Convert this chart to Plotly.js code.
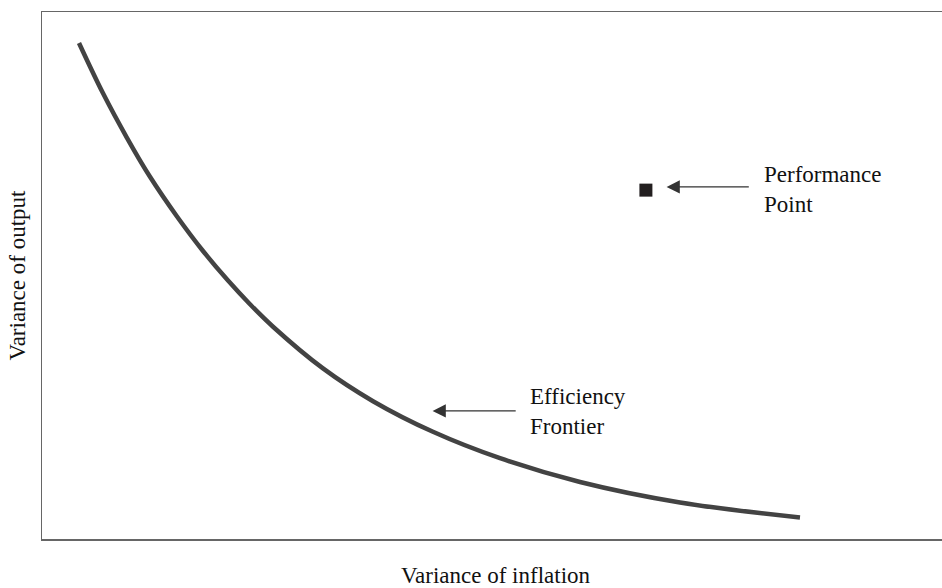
<!DOCTYPE html>
<html>
<head>
<meta charset="utf-8">
<script src="https://cdn.plot.ly/plotly-3.0.1.min.js"></script>
<style>html,body{margin:0;padding:0;background:#fff;}#chart{width:942px;height:588px;}</style>
</head>
<body>
<div id="chart"></div>
<script>
// Efficiency frontier (variance of inflation vs variance of output, arbitrary units 0-100)
const frontierX = [4.11, 6.78, 9.44, 12.0, 15.0, 17.89, 20.67, 23.11, 25.67, 31.22, 36.78, 43.44, 50.89, 59.78, 70.89, 84.22];
const frontierY = [94.12, 84.57, 76.13, 68.73, 61.2, 54.65, 49.03, 44.55, 40.28, 32.37, 26.15, 20.34, 15.33, 10.82, 6.93, 4.08];
// Performance point
const pointX = [67.1];
const pointY = [66.2];
// Labels
const xTitle = 'Variance of inflation';
const yTitle = 'Variance of output';
const perfLabel = 'Performance<br>Point';
const effLabel = 'Efficiency<br>Frontier';

const FONT = 'Liberation Serif, Times New Roman, Times, serif';

const traces = [
  {x: frontierX, y: frontierY, mode: 'lines', type: 'scatter',
   line: {color: '#434343', width: 4.5, shape: 'spline', smoothing: 1}, hoverinfo: 'skip'},
  {x: pointX, y: pointY, mode: 'markers', type: 'scatter',
   marker: {symbol: 'square', size: 13, color: '#231f20'}, hoverinfo: 'skip'}
];

const layout = {
  width: 942, height: 588,
  margin: {l: 42, r: 0, t: 12, b: 49},
  paper_bgcolor: '#ffffff', plot_bgcolor: '#ffffff',
  showlegend: false,
  font: {family: FONT, size: 23, color: '#111'},
  xaxis: {range: [0, 100], showgrid: false, zeroline: false, showticklabels: false, ticks: '',
          showline: true, linecolor: '#666', linewidth: 1.5, mirror: true, fixedrange: true},
  yaxis: {range: [0, 100], showgrid: false, zeroline: false, showticklabels: false, ticks: '',
          showline: true, linecolor: '#666', linewidth: 1.5, mirror: false, fixedrange: true,
          title: {text: yTitle, font: {family: FONT, size: 23, color: '#111'}, standoff: 8}},
  annotations: [
    {x: 0.5044, y: -0.0702, xref: 'paper', yref: 'paper', text: xTitle, showarrow: false,
     xanchor: 'center', yanchor: 'middle', font: {family: FONT, size: 23, color: '#111'}},
    {x: 69.4, y: 66.8, ax: 78.7, ay: 66.8, xref: 'x', yref: 'y', axref: 'x', ayref: 'y',
     text: '', showarrow: true, arrowhead: 2, arrowsize: 2.2, arrowwidth: 1.2, arrowcolor: '#333'},
    {x: 80.0, y: 66.4, xref: 'x', yref: 'y', text: perfLabel, showarrow: false,
     xanchor: 'left', yanchor: 'middle', align: 'left', font: {family: FONT, size: 23, color: '#111'}},
    {x: 43.4, y: 24.3, ax: 52.8, ay: 24.3, xref: 'x', yref: 'y', axref: 'x', ayref: 'y',
     text: '', showarrow: true, arrowhead: 2, arrowsize: 2.2, arrowwidth: 1.2, arrowcolor: '#333'},
    {x: 54.0, y: 24.1, xref: 'x', yref: 'y', text: effLabel, showarrow: false,
     xanchor: 'left', yanchor: 'middle', align: 'left', font: {family: FONT, size: 23, color: '#111'}}
  ]
};

Plotly.newPlot('chart', traces, layout, {displayModeBar: false, staticPlot: true});
</script>
</body>
</html>
